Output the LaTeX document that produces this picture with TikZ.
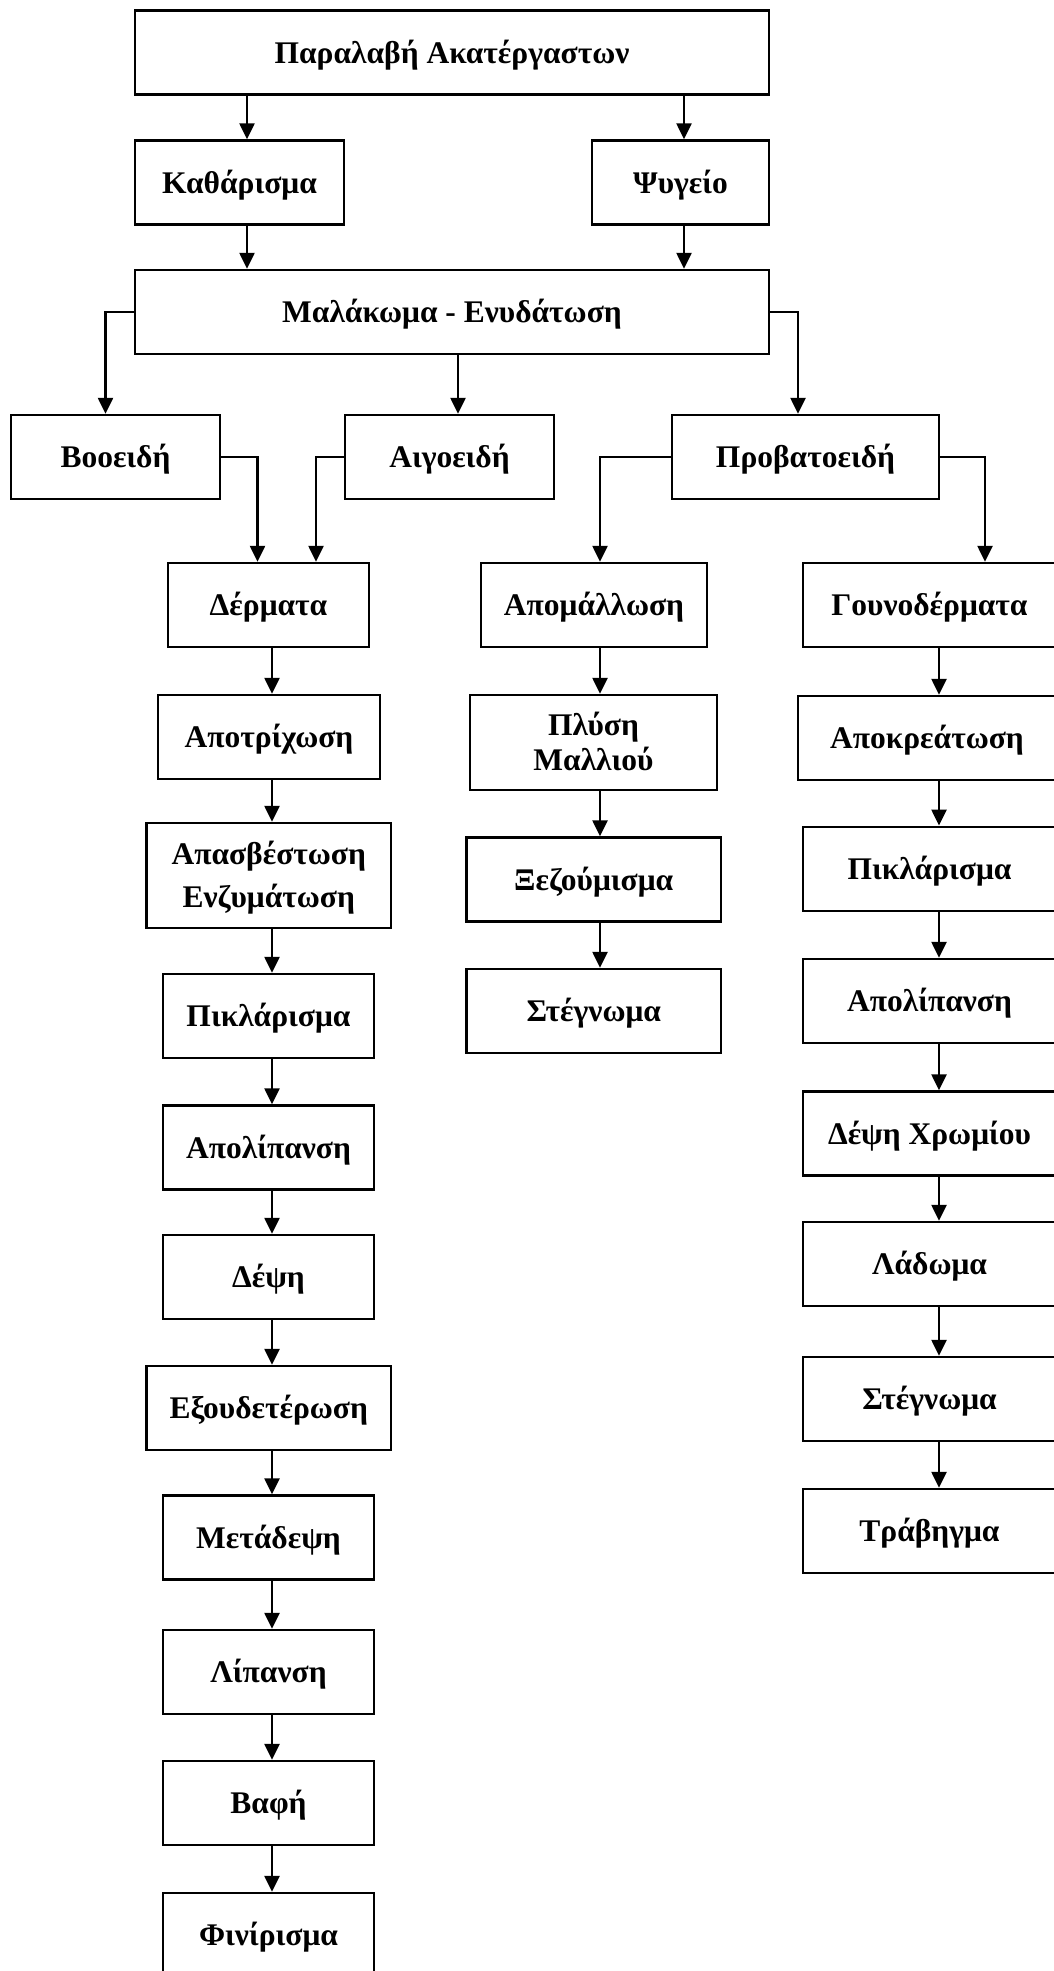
\documentclass[tikz,border=0pt]{standalone}
\usepackage{fontspec}
\setmainfont{Liberation Serif}
\usetikzlibrary{arrows.meta}
\begin{document}
\begin{tikzpicture}[x=1pt,y=-1pt,
  box/.style={draw,line width=2.4pt,minimum height=84pt,inner sep=0pt,align=center,
              text height=21pt,text depth=0pt,
              font=\bfseries\fontsize{31.5}{37}\selectfont},
  arr/.style={line width=2.4pt,-{Triangle[length=16pt,width=15pt]}},
  ]
\useasboundingbox (0,0) rectangle (1054,1971);
% column coordinates
\coordinate (k1) at (247,0);
\coordinate (k2) at (684,0);
\coordinate (k3) at (458,0);
\coordinate (e1) at (105.5,0);
\coordinate (e2) at (798,0);
\coordinate (e3) at (257.5,0);
\coordinate (e4) at (316,0);
\coordinate (e5) at (600,0);
\coordinate (e6) at (985,0);
\coordinate (cL) at (272,0);
\coordinate (cM) at (600,0);
\coordinate (cR) at (939,0);

\node[box,minimum width=634pt] (top) at (452,52.5) {Παραλαβή Ακατέργαστων};
\node[box,minimum width=209pt] (kath) at (239.5,182.5) {Καθάρισμα};
\node[box,minimum width=177pt] (psyg) at (680.5,182.5) {Ψυγείο};
\node[box,minimum width=634pt] (malak) at (452,312) {Μαλάκωμα - Ενυδάτωση};
\node[box,minimum width=209pt] (boo) at (115.5,457) {Βοοειδή};
\node[box,minimum width=209pt] (aig) at (449.5,457) {Αιγοειδή};
\node[box,minimum width=267pt] (prob) at (805.5,457) {Προβατοειδή};

\node[box,minimum width=201pt] (derm) at (268.5,605) {Δέρματα};
\node[box,minimum width=222pt] (apotr) at (269,737) {Αποτρίχωση};
\node[box,minimum width=244.5pt,minimum height=105pt,text height=64pt,
      font=\bfseries\fontsize{31.5}{43}\selectfont] (apasv) at (268.75,875.5) {Απασβέστωση\\ Ενζυμάτωση};
\node[box,minimum width=211pt] (piklL) at (268.5,1016) {Πικλάρισμα};
\node[box,minimum width=211pt] (apolL) at (268.5,1147.5) {Απολίπανση};
\node[box,minimum width=211pt] (deps) at (268.5,1277) {Δέψη};
\node[box,minimum width=244.5pt] (exoud) at (268.75,1408) {Εξουδετέρωση};
\node[box,minimum width=211pt] (metad) at (268.5,1537.5) {Μετάδεψη};
\node[box,minimum width=211pt] (lipan) at (268.5,1672) {Λίπανση};
\node[box,minimum width=211pt] (vafi) at (268.5,1803) {Βαφή};
\node[box,minimum width=211pt] (finir) at (268.5,1935) {Φινίρισμα};

\node[box,minimum width=226pt] (apom) at (594,605) {Απομάλλωση};
\node[box,minimum width=247pt,minimum height=95pt,text height=56pt,
      font=\bfseries\fontsize{31.5}{35}\selectfont] (plysi) at (593.5,742.5) {Πλύση\\Μαλλιού};
\node[box,minimum width=254.5pt] (xezou) at (593.75,879.5) {Ξεζούμισμα};
\node[box,minimum width=254.5pt] (stegnM) at (593.75,1011) {Στέγνωμα};

\node[box,minimum width=253pt] (gouno) at (929.5,605) {Γουνοδέρματα};
\node[box,minimum width=257.5pt] (apokr) at (927,738) {Αποκρεάτωση};
\node[box,minimum width=253pt] (piklR) at (929.5,868.75) {Πικλάρισμα};
\node[box,minimum width=253pt] (apolR) at (929.5,1001) {Απολίπανση};
\node[box,minimum width=253pt] (depsx) at (929.5,1133.5) {Δέψη Χρωμίου};
\node[box,minimum width=253pt] (lad) at (929.5,1264) {Λάδωμα};
\node[box,minimum width=253pt] (stegnR) at (929.5,1399) {Στέγνωμα};
\node[box,minimum width=253pt] (trav) at (929.5,1531) {Τράβηγμα};

% top part
\draw[arr] (top.south -| k1) -- (kath.north -| k1);
\draw[arr] (top.south -| k2) -- (psyg.north -| k2);
\draw[arr] (kath.south -| k1) -- (malak.north -| k1);
\draw[arr] (psyg.south -| k2) -- (malak.north -| k2);
\draw[arr] (malak.west) -| (boo.north -| e1);
\draw[arr] (malak.south -| k3) -- (aig.north -| k3);
\draw[arr] (malak.east) -| (prob.north -| e2);
\draw[arr] (boo.east) -| (derm.north -| e3);
\draw[arr] (aig.west) -| (derm.north -| e4);
\draw[arr] (prob.west) -| (apom.north -| e5);
\draw[arr] (prob.east) -| (gouno.north -| e6);

% left column
\draw[arr] (derm.south -| cL) -- (apotr.north -| cL);
\draw[arr] (apotr.south -| cL) -- (apasv.north -| cL);
\draw[arr] (apasv.south -| cL) -- (piklL.north -| cL);
\draw[arr] (piklL.south -| cL) -- (apolL.north -| cL);
\draw[arr] (apolL.south -| cL) -- (deps.north -| cL);
\draw[arr] (deps.south -| cL) -- (exoud.north -| cL);
\draw[arr] (exoud.south -| cL) -- (metad.north -| cL);
\draw[arr] (metad.south -| cL) -- (lipan.north -| cL);
\draw[arr] (lipan.south -| cL) -- (vafi.north -| cL);
\draw[arr] (vafi.south -| cL) -- (finir.north -| cL);

% middle column
\draw[arr] (apom.south -| cM) -- (plysi.north -| cM);
\draw[arr] (plysi.south -| cM) -- (xezou.north -| cM);
\draw[arr] (xezou.south -| cM) -- (stegnM.north -| cM);

% right column
\draw[arr] (gouno.south -| cR) -- (apokr.north -| cR);
\draw[arr] (apokr.south -| cR) -- (piklR.north -| cR);
\draw[arr] (piklR.south -| cR) -- (apolR.north -| cR);
\draw[arr] (apolR.south -| cR) -- (depsx.north -| cR);
\draw[arr] (depsx.south -| cR) -- (lad.north -| cR);
\draw[arr] (lad.south -| cR) -- (stegnR.north -| cR);
\draw[arr] (stegnR.south -| cR) -- (trav.north -| cR);
\end{tikzpicture}
\end{document}
